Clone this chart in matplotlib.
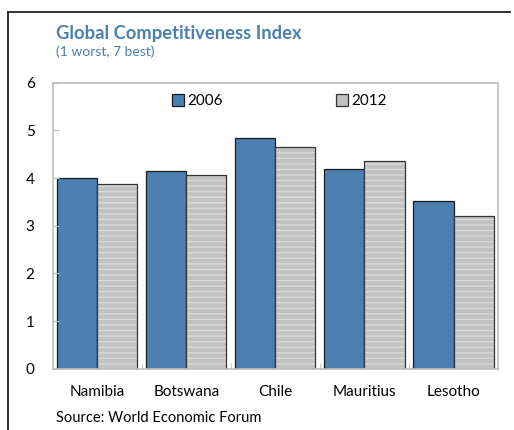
import numpy as np
import matplotlib
matplotlib.use("Agg")
import matplotlib.pyplot as plt
from matplotlib.lines import Line2D

plt.rcParams['font.family'] = ['Lato', 'DejaVu Sans']
plt.rcParams['hatch.linewidth'] = 0.9

countries = ['Namibia', 'Botswana', 'Chile', 'Mauritius', 'Lesotho']
gci_2006 = [4.0, 4.15, 4.83, 4.19, 3.51]
gci_2012 = [3.87, 4.06, 4.65, 4.35, 3.2]

blue = '#4a7fb0'
gray = '#c2c2c2'
frame = '#bdbdbd'

fig = plt.figure(figsize=(5.14, 4.30), dpi=100)
ax = fig.add_axes([0.1025, 0.1423, 0.8665, 0.6655])

x = np.arange(len(countries))
w = 0.45
ax.bar(x - w / 2, gci_2006, w, color=blue, edgecolor='#1a1a1a', linewidth=0.9, label='2006')
# striped fill first, then the dark outline on top
ax.bar(x + w / 2, gci_2012, w, color=gray, edgecolor='#dcdcdc', linewidth=0, hatch='---')
ax.bar(x + w / 2, gci_2012, w, fill=False, edgecolor='#333333', linewidth=0.9)
ax.bar([0], [0], 0, color=gray, edgecolor='#333333', linewidth=0.9, label='2012')

ax.set_xlim(-0.5, 4.5)
ax.set_ylim(0, 6)
ax.set_yticks(range(0, 7))
ax.set_xticks(x)
ax.set_xticklabels(countries)
ax.set_xticks(np.arange(0.5, 4.5, 1), minor=True)
ax.tick_params(axis='y', direction='in', length=4, color=frame, labelsize=11, pad=13)
ax.tick_params(axis='x', which='major', length=0, labelsize=11, pad=12)
ax.tick_params(axis='x', which='minor', direction='in', length=4, color=frame)
for s in ax.spines.values():
    s.set_color(frame)
    s.set_linewidth(1.2)

ax.legend(loc='center', bbox_to_anchor=(0.509, 0.935), ncol=2, frameon=False,
          handlelength=0.75, handleheight=0.75, handletextpad=0.2,
          columnspacing=7.45, fontsize=11)

fig.text(56 / 514, 1 - 33 / 430, 'Global Competitiveness Index', color=blue,
         fontsize=13.2, fontweight='bold', va='center')
fig.text(56 / 514, 1 - 52 / 430, '(1 worst, 7 best)', color=blue,
         fontsize=10, va='center')
fig.text(56 / 514, 1 - 418 / 430, 'Source: World Economic Forum',
         fontsize=10.5, va='center')

# outer border on left and top
fig.add_artist(Line2D([8 / 514, 8 / 514], [0, 1 - 12 / 430], transform=fig.transFigure,
                      color='#222222', lw=1.3))
fig.add_artist(Line2D([8 / 514, 510 / 514], [1 - 12 / 430, 1 - 12 / 430],
                      transform=fig.transFigure, color='#222222', lw=1.3))

fig.savefig('out.png', dpi=100)
